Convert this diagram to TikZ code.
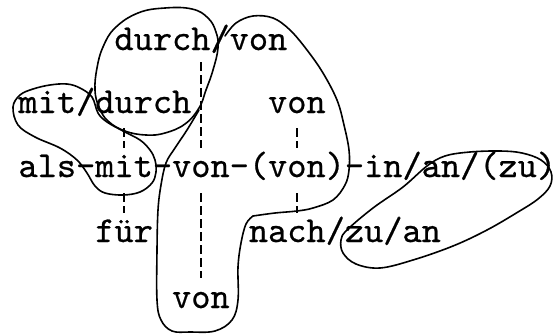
\documentclass[tikz,border=0pt]{standalone}
\usepackage{fontspec}
\newfontfamily\tw[FakeBold=0.6]{lmmono10-regular.otf}
\begin{document}
\begin{tikzpicture}[x=1pt,y=-1pt,
  t/.style={anchor=base west, inner sep=0pt, outer sep=0pt, font=\tw\fontsize{36.57}{40}\selectfont},
  loopline/.style={line width=1.6pt, line join=round, line cap=round},
  dline/.style={line width=1.3pt, dash pattern=on 9pt off 4pt}]
\fill[white] (0,0) rectangle (558,333);
\useasboundingbox (0,0) rectangle (558,333);
% row 1
\node[t] (r1durch) at ({18.5+19.2*5},50) {durch};
\node[t] (r1sl)    at ({18.5+19.2*10},50) {/};
\node[t] (r1von)   at ({18.5+19.2*11},50) {von};
% row 2
\node[t] (r2mit)   at (18.5,113) {mit};
\node[t] (r2sl)    at ({18.5+19.2*3},113) {/};
\node[t] (r2durch) at ({18.5+19.2*4},113) {durch};
\node[t] (r2von)   at ({18.5+19.2*13},113) {von};
% row 3
\node[t] (r3als)  at (18.5,177) {als};
\node[t] (r3h1)   at ({18.5+19.2*3},177) {-};
\node[t] (r3mit)  at ({18.5+19.2*4},177) {mit};
\node[t] (r3h2)   at ({18.5+19.2*7},177) {-};
\node[t] (r3von)  at ({18.5+19.2*8},177) {von};
\node[t] (r3h3)   at ({18.5+19.2*11},177) {-};
\node[t] (r3pvon) at ({18.5+19.2*12},177) {(von)};
\node[t] (r3h4)   at ({18.5+19.2*17},177) {-};
\node[t] (r3in)   at ({18.5+19.2*18},177) {in};
\node[t] (r3s1)   at ({18.5+19.2*20},177) {/};
\node[t] (r3an)   at ({18.5+19.2*21},177) {an};
\node[t] (r3s2)   at ({18.5+19.2*23},177) {/};
\node[t] (r3zu)   at ({18.5+19.2*24},177) {(zu)};
% row 4
\node[t] (r4fur)  at ({18.5+19.2*4},242) {für};
\node[t] (r4nach) at ({18.5+19.2*12},242) {nach};
\node[t] (r4s1)   at ({18.5+19.2*16},242) {/};
\node[t] (r4zu)   at ({18.5+19.2*17},242) {zu};
\node[t] (r4s2)   at ({18.5+19.2*19},242) {/};
\node[t] (r4an)   at ({18.5+19.2*20},242) {an};
% row 5
\node[t] (r5von)  at ({18.5+19.2*8},308) {von};
% dashed connectors
\draw[dline] (r1durch.base east) ++(-9.6,12) -- ++(0,86);
\draw[dline] (r2durch.base west) ++(28.8,15) -- ++(0,20);
\draw[dline] (r3mit.base west) ++(28.8,16) -- ++(0,20);
\draw[dline] (r2von.base west) ++(28.8,15) -- ++(0,20);
\draw[dline] (r3pvon.base west) ++(48,16) -- ++(0,20);
\draw[dline] (r3von.base west) ++(28.8,16) -- ++(0,85);
% loop A
\draw[loopline] plot[smooth cycle, tension=0.7] coordinates {
 (165,8) (192,9) (208,18) (216,32) (218,48) (213,70) (206,90) (199,108)
 (185,124) (165,133) (146,135) (125,131) (108,121) (99,107) (95,90)
 (97,68) (103,47) (115,28) (138,13)};
% loop B
\draw[loopline] plot[smooth, tension=0.6] coordinates {
 (225,36) (236,23) (253,16) (273,18) (290,30) (307,50) (323,73) (337,100)
 (344,125) (349,150) (349,170) (345,185) (333,200) (313,208) (297,211)
 (275,213) (253,216)};
\draw[loopline] plot[smooth, tension=0.6] coordinates {
 (253,216) (246,224) (241,243) (238,267) (238,300) (232,320) (215,331)
 (190,332) (172,331) (161,320) (157,300) (157,250) (158,210) (161,185)
 (166,163) (175,148) (187,130) (199,110)};
% loop C
\draw[loopline] plot[smooth cycle, tension=0.6] coordinates {
 (13,107) (20,95) (33,89) (50,85) (67,84) (80,88) (92,97) (98,113)
 (107,122) (123,131) (140,140) (150,150) (155,160) (156,172) (152,183)
 (140,192) (123,195) (105,193) (95,186) (87,173) (77,160) (60,148)
 (35,137) (18,125)};
% loop D
\draw[loopline] plot[smooth cycle, tension=0.6] coordinates {
 (347,230) (373,208) (403,187) (427,166) (445,156) (470,152) (500,151)
 (522,153) (541,160) (551,172) (550,186) (538,199) (518,212) (487,230)
 (453,246) (413,260) (380,268) (356,264) (343,253) (341,240)};
\end{tikzpicture}
\end{document}
